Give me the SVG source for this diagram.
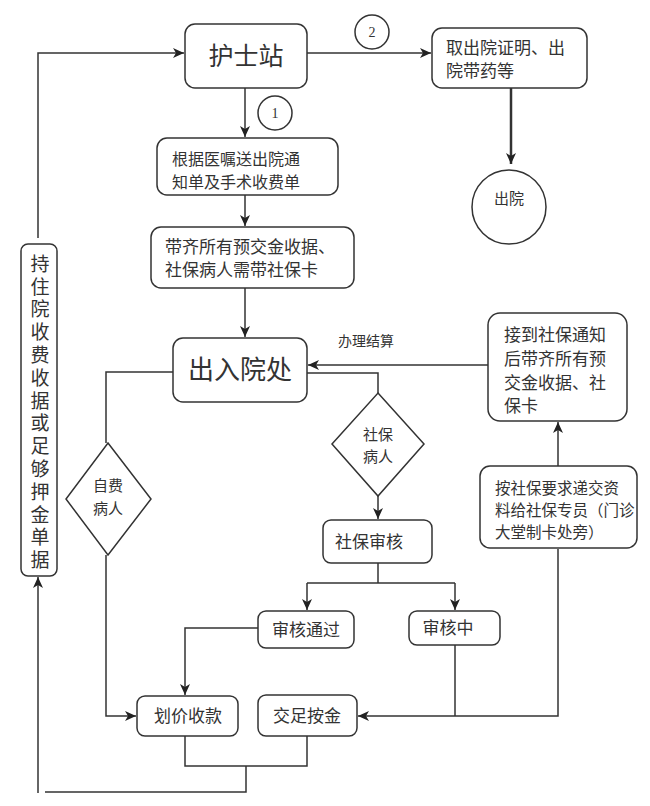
<svg xmlns="http://www.w3.org/2000/svg" width="650" height="806" viewBox="0 0 650 806">
<defs>
<marker id="arr" markerUnits="userSpaceOnUse" markerWidth="12" markerHeight="12" viewBox="0 0 12 12" refX="11" refY="6" orient="auto">
<path d="M0,1 L11,6 L0,11 L3,6 Z" fill="#222"/>
</marker>
<style>
.box{fill:#fff;stroke:#333;stroke-width:1.5}
.ln{fill:none;stroke:#333;stroke-width:1.5}
.t{font-family:"Noto Sans CJK SC","Noto Sans",sans-serif;fill:#333}
</style>
</defs>
<rect width="650" height="806" fill="#fff"/>
<g id="connectors">
<path class="ln" d="M38,238 V53 H184" marker-end="url(#arr)"/>
<path class="ln" d="M245,88 V137" marker-end="url(#arr)"/>
<path class="ln" d="M307,53 H431" marker-end="url(#arr)"/>
<path class="ln" d="M511,88 V164" style="stroke-width:2.5" marker-end="url(#arr)"/>
<path class="ln" d="M245,195 V226" marker-end="url(#arr)"/>
<path class="ln" d="M245,288 V337" marker-end="url(#arr)"/>
<path class="ln" d="M488,365 H308" marker-end="url(#arr)"/>
<path class="ln" d="M307,373 H378 V393"/>
<path class="ln" d="M378,496 V519" marker-end="url(#arr)"/>
<path class="ln" d="M173,372 H106 V443"/>
<path class="ln" d="M106,555 V716 H136" marker-end="url(#arr)"/>
<path class="ln" d="M378,563 V583"/>
<path class="ln" d="M307,583 H455"/>
<path class="ln" d="M307,583 V610" marker-end="url(#arr)"/>
<path class="ln" d="M455,583 V610" marker-end="url(#arr)"/>
<path class="ln" d="M258,628 H185 V695" marker-end="url(#arr)"/>
<path class="ln" d="M455,645 V716"/>
<path class="ln" d="M558,549 V716 H358" marker-end="url(#arr)"/>
<path class="ln" d="M558,466 V422" marker-end="url(#arr)"/>
<path class="ln" d="M185,736 V766 H307 V736"/>
<path class="ln" d="M246,766 V792 H45"/>
<path class="ln" d="M38,793 V577" marker-end="url(#arr)"/>
</g>
<g id="n_hushizhan">
<rect class="box" x="185" y="24" width="122" height="64" rx="10"/>
<text class="t" x="246" y="65" font-size="25" text-anchor="middle">护士站</text>
</g>
<g id="c1">
<circle class="box" cx="275" cy="113" r="17"/>
<text x="275" y="118" font-family="Liberation Serif,serif" font-size="14" text-anchor="middle" fill="#333">1</text>
</g>
<g id="c2">
<circle class="box" cx="372" cy="32" r="17"/>
<text x="372" y="37" font-family="Liberation Serif,serif" font-size="14" text-anchor="middle" fill="#333">2</text>
</g>
<g id="n_quchuyuan">
<rect class="box" x="432" y="28" width="155" height="60" rx="10"/>
<text class="t" font-size="17"><tspan x="446" y="54">取出院证明、出</tspan><tspan x="446" y="77">院带药等</tspan></text>
</g>
<g id="n_chuyuan">
<circle class="box" cx="509" cy="207" r="37"/>
<text class="t" x="509" y="204" font-size="15" text-anchor="middle">出院</text>
</g>
<g id="n_genju">
<rect class="box" x="157" y="138" width="181" height="57" rx="10"/>
<text class="t" font-size="16"><tspan x="172" y="165">根据医嘱送出院通</tspan><tspan x="172" y="188">知单及手术收费单</tspan></text>
</g>
<g id="n_daiqi">
<rect class="box" x="151" y="227" width="203" height="61" rx="10"/>
<text class="t" font-size="17"><tspan x="165" y="253">带齐所有预交金收据、</tspan><tspan x="165" y="276">社保病人需带社保卡</tspan></text>
</g>
<g id="n_churuyuan">
<rect class="box" x="173" y="338" width="134" height="64" rx="10"/>
<text class="t" x="240" y="379" font-size="26" text-anchor="middle">出入院处</text>
</g>
<g id="l_banli">
<text class="t" x="338" y="346" font-size="14">办理结算</text>
</g>
<g id="n_jiedao">
<rect class="box" x="488" y="313" width="139" height="108" rx="12"/>
<text class="t" font-size="17"><tspan x="504" y="341">接到社保通知</tspan><tspan x="504" y="365">后带齐所有预</tspan><tspan x="504" y="389">交金收据、社</tspan><tspan x="504" y="412">保卡</tspan></text>
</g>
<g id="n_an">
<rect class="box" x="480" y="466" width="157" height="82" rx="10"/>
<text class="t" font-size="15.5"><tspan x="495" y="494">按社保要求递交资</tspan><tspan x="495" y="516">料给社保专员（门诊</tspan><tspan x="495" y="538">大堂制卡处旁）</tspan></text>
</g>
<g id="n_shebaobingren">
<polygon class="box" points="378,393 424,444 378,496 332,444"/>
<text class="t" font-size="15" text-anchor="middle"><tspan x="378" y="440">社保</tspan><tspan x="378" y="462">病人</tspan></text>
</g>
<g id="n_zifei">
<polygon class="box" points="108,443 151,499 108,555 66,499"/>
<text class="t" font-size="15" text-anchor="middle"><tspan x="108" y="491">自费</tspan><tspan x="108" y="514">病人</tspan></text>
</g>
<g id="n_shenhe">
<rect class="box" x="323" y="520" width="109" height="43" rx="8"/>
<text class="t" x="335" y="548" font-size="17">社保审核</text>
</g>
<g id="n_tongguo">
<rect class="box" x="258" y="611" width="96" height="37" rx="8"/>
<text class="t" x="306" y="636" font-size="17" text-anchor="middle">审核通过</text>
</g>
<g id="n_shenhezhong">
<rect class="box" x="409" y="611" width="91" height="34" rx="8"/>
<text class="t" x="448" y="634" font-size="17" text-anchor="middle">审核中</text>
</g>
<g id="n_huajia">
<rect class="box" x="137" y="696" width="101" height="40" rx="8"/>
<text class="t" x="188" y="722" font-size="17" text-anchor="middle">划价收款</text>
</g>
<g id="n_jiaozu">
<rect class="box" x="258" y="695" width="99" height="41" rx="8"/>
<text class="t" x="307" y="722" font-size="17" text-anchor="middle">交足按金</text>
</g>
<g id="n_chizhu">
<rect class="box" x="21" y="244" width="36" height="332" rx="7"/>
<text class="t" x="40" y="254" font-size="19" style="writing-mode:vertical-rl;letter-spacing:3.8px">持住院收费收据或足够押金单据</text>
</g>
</svg>
